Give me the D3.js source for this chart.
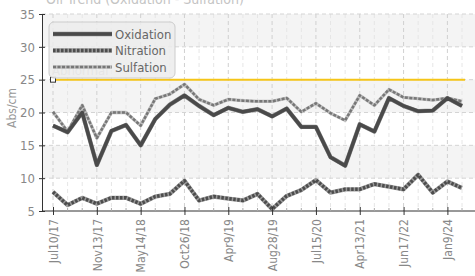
<!DOCTYPE html>
<html>
<head>
<meta charset="utf-8">
<script src="https://cdn.jsdelivr.net/npm/d3@7"></script>
<style>
  body { margin: 0; background: #fff; }
  text { font-family: "DejaVu Sans Condensed", "DejaVu Sans", sans-serif; font-stretch: condensed; }
</style>
</head>
<body>
<div id="chart"></div>
<script>
var svgWidth = 475;
var svgHeight = 276;

// sample dates (one per point), labels every third one
var dates = ["Jul10/17", "a1", "a2", "Nov13/17", "b1", "b2", "May14/18", "c1", "c2",
  "Oct26/18", "d1", "d2", "Apr9/19", "e1", "e2", "Aug28/19", "f1", "f2",
  "Jul15/20", "g1", "g2", "Apr13/21", "h1", "h2", "Jun17/22", "i1", "i2", "Jan9/24", "j1"];

var oxidation = [18, 17, 20, 12, 17.2, 18.1, 15, 19, 21.2, 22.6, 21, 19.6, 20.7, 20.1, 20.5,
  19.4, 20.6, 17.8, 17.8, 13.2, 11.9, 18.2, 17.1, 22.2, 21, 20.2, 20.3, 22.2, 21];
var nitration = [7.9, 5.9, 7, 6.1, 7, 7, 6.1, 7.2, 7.6, 9.6, 6.6, 7.2, 6.9, 6.6, 7.6,
  5.3, 7.3, 8.2, 9.7, 7.8, 8.3, 8.3, 9.1, 8.7, 8.3, 10.5, 7.8, 9.5, 8.5];
var sulfation = [20.1, 17.1, 21.1, 16.1, 20, 20, 18, 22.1, 22.8, 24.3, 22, 21.1, 22, 21.8, 21.7,
  21.7, 22.2, 20.1, 21.4, 19.9, 18.8, 22.6, 21.1, 23.5, 22.3, 22.1, 21.9, 22.2, 21.7];

var abnormal = 25;
var yTicks = [5, 10, 15, 20, 25, 30, 35];

var svg = d3.select("#chart").append("svg")
  .attr("width", svgWidth)
  .attr("height", svgHeight);

var plotLeft = 42, plotRight = 475, plotTop = 14, plotBottom = 211;

var xScale = d3.scalePoint()
  .domain(d3.range(dates.length))
  .range([53, 462]);

var yScale = d3.scaleLinear()
  .domain([5, 35])
  .range([plotBottom, plotTop]);

// title, mostly cut off at the top
svg.append("text")
  .attr("x", 46)
  .attr("y", 4)
  .attr("font-size", 14)
  .attr("fill", "#c4c4c4")
  .text("Oil Trend (Oxidation - Sulfation)");

// alternating bands
var bands = [[30, 35], [20, 25], [10, 15]];
svg.selectAll(".band")
  .data(bands)
  .enter()
  .append("rect")
  .attr("x", plotLeft)
  .attr("width", plotRight - plotLeft)
  .attr("y", d => yScale(d[1]))
  .attr("height", d => yScale(d[0]) - yScale(d[1]))
  .attr("fill", "#f4f4f4");

// grid
svg.selectAll(".vminor")
  .data(d3.range(dates.length).filter(i => i % 3 != 0))
  .enter()
  .append("line")
  .attr("x1", d => xScale(d)).attr("x2", d => xScale(d))
  .attr("y1", plotTop).attr("y2", plotBottom)
  .attr("stroke", "#e6e6e6")
  .attr("stroke-dasharray", "4,3");

svg.selectAll(".vmajor")
  .data(d3.range(dates.length).filter(i => i % 3 == 0))
  .enter()
  .append("line")
  .attr("x1", d => xScale(d)).attr("x2", d => xScale(d))
  .attr("y1", plotTop).attr("y2", plotBottom)
  .attr("stroke", "#d0d0d0")
  .attr("stroke-dasharray", "4,3");

svg.selectAll(".hgrid")
  .data(yTicks.slice(1))
  .enter()
  .append("line")
  .attr("x1", plotLeft).attr("x2", plotRight)
  .attr("y1", d => yScale(d)).attr("y2", d => yScale(d))
  .attr("stroke", "#d4d4d4")
  .attr("stroke-dasharray", "4,3");

// abnormal limit
svg.append("text")
  .attr("x", 52)
  .attr("y", yScale(abnormal) - 5)
  .attr("font-size", 13)
  .attr("fill", "#bbb")
  .text("Abnormal");

svg.append("line")
  .attr("x1", xScale(0)).attr("x2", xScale(dates.length - 1) + 3)
  .attr("y1", yScale(abnormal)).attr("y2", yScale(abnormal))
  .attr("stroke", "#f5c518")
  .attr("stroke-width", 2);

svg.append("rect")
  .attr("x", xScale(0) - 2.5)
  .attr("y", yScale(abnormal) - 2.5)
  .attr("width", 5).attr("height", 5)
  .attr("fill", "#fff")
  .attr("stroke", "#333");

// series: an under-stroke plus the patterned stroke on top
var series = [
  { name: "Oxidation", values: oxidation, color: "#4a4a4a", under: "#888", width: 3.5, dash: null },
  { name: "Nitration", values: nitration, color: "#4d4d4d", under: "#9a9a9a", width: 3.5, dash: "2.5,1.5" },
  { name: "Sulfation", values: sulfation, color: "#777", under: "#bdbdbd", width: 2.5, dash: "3,1.5" }
];

var line = d3.line()
  .x((d, i) => xScale(i))
  .y(d => yScale(d));

series.slice().reverse().forEach(function(s) {
  svg.append("path")
    .datum(s.values)
    .attr("d", line)
    .attr("fill", "none")
    .attr("stroke", s.under)
    .attr("stroke-width", s.width + 0.8)
    .attr("stroke-linejoin", "round");
  svg.append("path")
    .datum(s.values)
    .attr("d", line)
    .attr("fill", "none")
    .attr("stroke", s.color)
    .attr("stroke-width", s.width)
    .attr("stroke-linejoin", "round")
    .attr("stroke-dasharray", s.dash);
});

// y axis
var yAxis = svg.append("g")
  .attr("transform", `translate(${plotLeft},0)`)
  .call(d3.axisLeft(yScale).tickValues(yTicks).tickSize(3).tickPadding(4));
yAxis.select(".domain").attr("stroke", "#333");
yAxis.selectAll(".tick line").attr("x2", 3).attr("x1", -3).attr("stroke", "#333");
yAxis.selectAll(".tick text")
  .attr("font-size", 13)
  .attr("fill", "#888")
  .attr("font-family", null);

svg.append("text")
  .attr("transform", "translate(16,108) rotate(-90)")
  .attr("text-anchor", "middle")
  .attr("font-size", 12)
  .attr("fill", "#999")
  .text("Abs/cm");

// x axis
var xAxis = svg.append("g")
  .attr("transform", `translate(0,${plotBottom})`)
  .call(d3.axisBottom(xScale)
    .tickValues(d3.range(dates.length).filter(i => i % 3 == 0))
    .tickFormat(i => dates[i])
    .tickSize(4));
xAxis.select(".domain").attr("d", `M${plotLeft},0H${plotRight}`).attr("stroke", "#333");
xAxis.selectAll(".tick line").attr("y1", -4).attr("y2", 4).attr("stroke", "#333");
xAxis.selectAll(".tick text")
  .attr("font-size", 12)
  .attr("fill", "#888")
  .attr("font-family", null)
  .attr("text-anchor", "end")
  .attr("transform", "rotate(-90)")
  .attr("x", -8)
  .attr("y", 0)
  .attr("dy", "0.35em");

svg.selectAll(".minortick")
  .data(d3.range(dates.length).filter(i => i % 3 != 0))
  .enter()
  .append("line")
  .attr("x1", d => xScale(d)).attr("x2", d => xScale(d))
  .attr("y1", plotBottom - 3).attr("y2", plotBottom)
  .attr("stroke", "#aaa");

// legend
var legend = svg.append("g").attr("transform", "translate(49,22)");
legend.append("rect")
  .attr("width", 126).attr("height", 56)
  .attr("rx", 5)
  .attr("fill", "#ececec")
  .attr("fill-opacity", 0.85)
  .attr("stroke", "#ccc");

series.forEach(function(s, i) {
  var ly = 12 + i * 16.5;
  legend.append("line")
    .attr("x1", 4).attr("x2", 63)
    .attr("y1", ly).attr("y2", ly)
    .attr("stroke", s.under)
    .attr("stroke-width", s.width + 0.8);
  legend.append("line")
    .attr("x1", 4).attr("x2", 63)
    .attr("y1", ly).attr("y2", ly)
    .attr("stroke", s.color)
    .attr("stroke-width", s.width)
    .attr("stroke-dasharray", s.dash);
  legend.append("text")
    .attr("x", 66)
    .attr("y", ly + 4.5)
    .attr("font-size", 13)
    .attr("fill", "#666")
    .text(s.name);
});
</script>
</body>
</html>
